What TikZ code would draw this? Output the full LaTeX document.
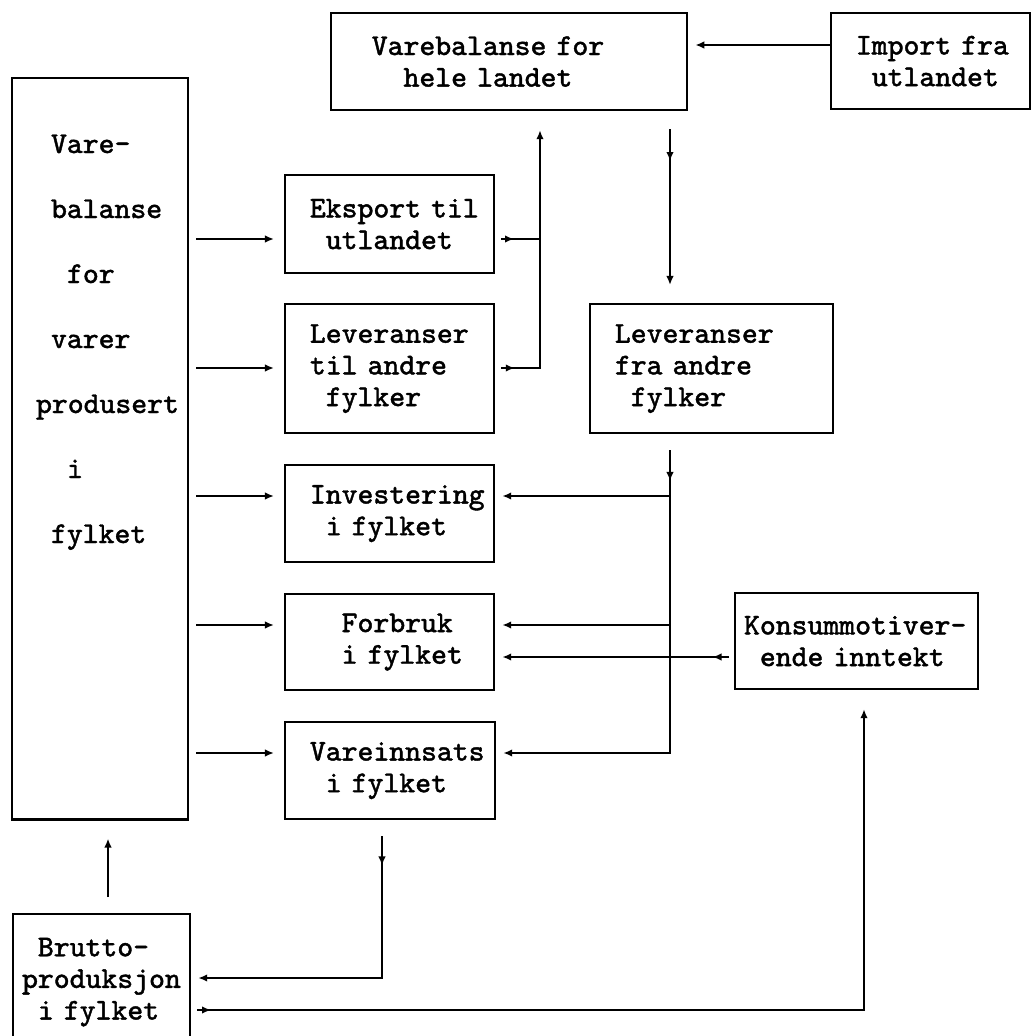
\documentclass[tikz,border=0pt]{standalone}
\usepackage{fontspec}
\usetikzlibrary{arrows.meta,decorations.markings}
\newfontfamily\boxfam{Latin Modern Mono}[FakeBold=1.3]
\newcommand\boxfont{\fontsize{8.6}{9}\selectfont\boxfam}
\newcommand\ind[1]{\hspace*{#1\dimexpr0.525em\relax}}

\begin{document}
\begin{tikzpicture}[x=0.01cm,y=-0.01cm,line width=0.6pt,
  >={Latex[length=0.9mm,width=0.75mm]},
  txt/.style={inner sep=0pt,font=\boxfont},
  blk/.style={draw,anchor=north west,align=left,inner xsep=0.9mm,inner ysep=0pt,font=\boxfont},
  midarr/.style={postaction={decorate},
    decoration={markings,mark=at position #1 with {\arrow{>}}}}]
\useasboundingbox (0,0) rectangle (1031,1036);
% boxes
\node[blk,minimum width=35.6mm,minimum height=9.7mm,text width=33.8mm] (vhl) at (330,12) {\ind2Varebalanse for\\\ind4hele landet};
\node[blk,minimum width=19.9mm,minimum height=9.6mm,text width=18.1mm] (imp) at (830,12) {\ind1Import fra\\\ind2utlandet};
\node[blk,minimum width=17.6mm,minimum height=74.1mm] (vbal) at (11,77) {};
\foreach \t/\x/\y [count=\i] in {Vare-/50/153, balanse/50/218, for/66/283, varer/50/348,
    produsert/35/413, i/66/478, fylket/50/543}
  \node[txt,anchor=base west] (vl\i) at (\x,\y) {\t};
\node[blk,minimum width=20.9mm,minimum height=9.8mm,text width=19.1mm] (eks) at (284,174) {\ind1Eksport til\\\ind2utlandet};
\node[blk,minimum width=20.9mm,minimum height=12.9mm,text width=19.1mm] (levt) at (284,303) {\ind1Leveranser\\\ind1til andre\\\ind2fylker};
\node[blk,minimum width=24.3mm,minimum height=12.9mm,text width=22.5mm] (levf) at (589,303) {\ind1Leveranser\\\ind1fra andre\\\ind2fylker};
\node[blk,minimum width=20.9mm,minimum height=9.7mm,text width=19.1mm] (inv) at (284,464) {\ind1Investering\\\ind2i fylket};
\node[blk,minimum width=20.9mm,minimum height=9.6mm,text width=19.1mm] (forb) at (284,593) {\ind3Forbruk\\\ind3i fylket};
\node[blk,minimum width=24.3mm,minimum height=9.6mm,text width=22.5mm] (kons) at (734,592) {Konsummotiver-\\\ind1ende inntekt};
\node[blk,minimum width=21.0mm,minimum height=9.7mm,text width=19.2mm] (vinn) at (284,721) {\ind1Vareinnsats\\\ind2i fylket};
\node[blk,minimum width=17.7mm,minimum height=13.6mm,text width=15.9mm] (brut) at (12,913) {\ind1Brutto-\\produksjon\\\ind1i fylket};

% import
\draw[->,shorten >=0.7mm] (imp.west |- 0,45) -- (vhl.east |- 0,45);
% from the county balance
\foreach \b/\y in {eks/239, levt/368, inv/496, forb/625, vinn/753}
  \draw[->,shorten <=0.7mm,shorten >=1mm] (vbal.east |- 0,\y) -- (\b.west |- 0,\y);
% export and deliveries up to the national balance
\coordinate (up) at (540,368);
\draw[shorten <=0.6mm,midarr=0.42] (eks.east |- 0,239) -- (up |- 0,239);
\draw[->,shorten <=0.6mm,shorten >=1.9mm,midarr=0.065] (levt.east |- up) -- (up) -- (vhl.south -| up);
% national balance down to deliveries from other counties
\draw[->,shorten <=1.8mm,shorten >=1.8mm,midarr=0.26] (vhl.south -| 670,0) -- (levf.north -| 670,0);
\coordinate (br) at (670,753);
\draw[->,shorten <=1.6mm,shorten >=0.7mm,midarr=0.095] (levf.south -| br) -- (br) -- (vinn.east |- br);
\foreach \b/\y in {inv/496, forb/625}
  \draw[->,shorten >=0.7mm] (br |- 0,\y) -- (\b.east |- 0,\y);
% income to consumption
\draw[->,shorten <=0.5mm,shorten >=0.7mm,midarr=0.09] (kons.west |- 0,657) -- (forb.east |- 0,657);
% inputs to gross production
\coordinate (bl) at (382,978);
\draw[->,shorten <=1.6mm,shorten >=0.7mm,midarr=0.13] (vinn.south -| bl) -- (bl) -- (brut.east |- bl);
\draw[->,shorten <=1.6mm,shorten >=1.8mm] (brut.north -| 108,0) -- (vbal.south -| 108,0);
\coordinate (kr) at (864,1010);
\draw[->,shorten <=0.6mm,shorten >=1.9mm,midarr=0.02] (brut.east |- kr) -- (kr) -- (kons.south -| kr);
\end{tikzpicture}
\end{document}
